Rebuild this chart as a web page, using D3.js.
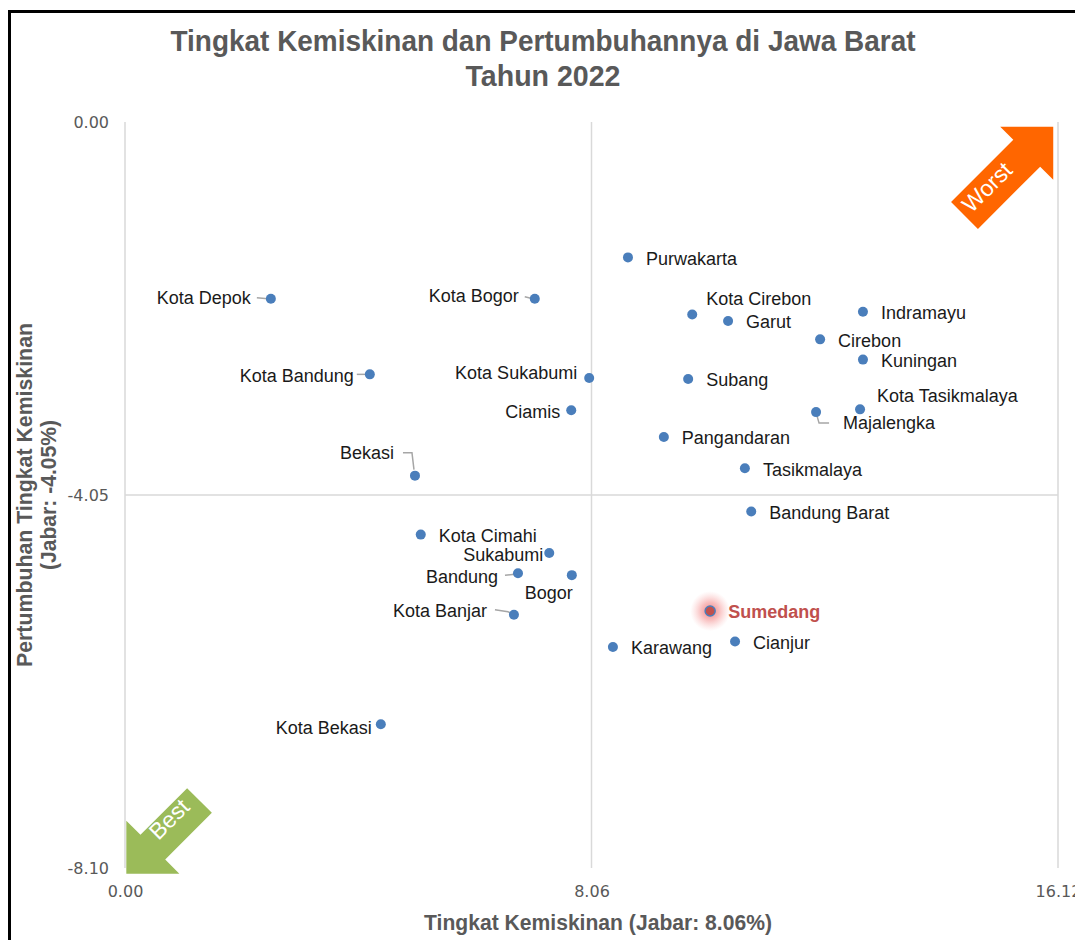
<!DOCTYPE html>
<html>
<head>
<meta charset="utf-8">
<script src="https://cdn.jsdelivr.net/npm/d3@7"></script>
<style>
  html, body { margin: 0; padding: 0; background: #fff; }
  svg { display: block; }
</style>
</head>
<body>
<svg id="chart" width="1075" height="940"></svg>
<script>
// ---------------- DATA ----------------
const regions = ["Purwakarta","Kota Depok","Kota Bogor","Kota Cirebon","Garut","Indramayu","Cirebon","Kuningan",
  "Kota Bandung","Kota Sukabumi","Subang","Ciamis","Majalengka","Kota Tasikmalaya","Pangandaran","Tasikmalaya",
  "Bekasi","Bandung Barat","Kota Cimahi","Sukabumi","Bandung","Bogor","Sumedang","Kota Banjar","Cianjur","Karawang","Kota Bekasi"];
const povertyRate = [8.69,2.52,7.08,9.80,10.42,12.75,12.01,12.75,
  4.23,8.02,9.73,7.71,11.94,12.70,9.31,10.71,
  5.01,10.82,5.11,7.33,6.79,7.72,10.11,6.72,10.54,8.43,4.42];
const povertyGrowth = [-1.47,-1.92,-1.92,-2.09,-2.16,-2.06,-2.36,-2.58,
  -2.74,-2.78,-2.79,-3.13,-3.15,-3.12,-3.42,-3.76,
  -3.84,-4.23,-4.48,-4.68,-4.90,-4.92,-5.31,-5.35,-5.64,-5.70,-6.54];
const highlight = "Sumedang";
const xTicks = [0, 8.06, 16.12];
const yTicks = [0, -4.05, -8.10];
const avgX = 8.06, avgY = -4.05;
const titleLines = ["Tingkat Kemiskinan dan Pertumbuhannya di Jawa Barat", "Tahun 2022"];
const xTitle = "Tingkat Kemiskinan (Jabar: 8.06%)";
const yTitleLines = ["Pertumbuhan Tingkat Kemiskinan", "(Jabar: -4.05%)"];

// ---------------- LABEL LAYOUT (positions only) ----------------
const labelLayout = {
  "Kota Depok":   {dx:-20, dy:-1, anchor:"end", leader:[[-14,-1],[-3,0]]},
  "Kota Bogor":   {dx:-16, dy:-3, anchor:"end", leader:[[-10,-2],[-2,0]]},
  "Kota Bandung": {dx:-16, dy:1, anchor:"end", leader:[[-13,0],[-3,0]]},
  "Bekasi":       {dx:-21, dy:-23, anchor:"end", leader:[[-12,-23],[-3,-23],[-1,-6]]},
  "Bandung":      {dx:-20, dy:3, anchor:"end", leader:[[-13,2],[-3,1]]},
  "Kota Banjar":  {dx:-27, dy:-4, anchor:"end", leader:[[-19,-5],[-6,-3],[-1,0]]},
  "Majalengka":   {dx:27, dy:11, anchor:"start", leader:[[1,4],[3,11],[13,11]]},
  "Kota Sukabumi":{dx:-12, dy:-5, anchor:"end"},
  "Ciamis":       {dx:-11, dy:1, anchor:"end"},
  "Sukabumi":     {dx:-6, dy:2, anchor:"end"},
  "Bogor":        {dx:1, dy:18, anchor:"end"},
  "Kota Bekasi":  {dx:-9, dy:3, anchor:"end"},
  "Kota Cirebon": {dx:14, dy:-16, anchor:"start"},
  "Kota Tasikmalaya": {dx:17, dy:-14, anchor:"start"}
};
const defaultLayout = {dx:18, dy:1, anchor:"start"};

// ---------------- CHART ----------------
const svg = d3.select("#chart");
const plot = {left:125, right:1058, top:122, bottom:868};
const x = d3.scaleLinear().domain([0, 16.12]).range([plot.left, plot.right]);
const y = d3.scaleLinear().domain([0, -8.10]).range([plot.top, plot.bottom]);

const grey = "#595959";
const gridCol = "#D9D9D9";
const condensed = "'Liberation Sans Narrow', 'Arial Narrow', 'Liberation Sans', sans-serif";
const fmt = d => d3.format(".2f")(d).replace("\u2212", "-");

// outer frame
svg.append("rect").attr("x", 9.5).attr("y", 11.5).attr("width", 1200).attr("height", 1200)
  .attr("fill", "none").attr("stroke", "#000").attr("stroke-width", 3);

// title
const titleLens = [745, 155];
svg.append("g").selectAll("text").data(titleLines).join("text")
  .attr("x", 543).attr("y", (d,i) => 51 + i*35)
  .attr("text-anchor", "middle")
  .attr("textLength", (d,i) => titleLens[i]).attr("lengthAdjust", "spacingAndGlyphs")
  .attr("font-family", condensed)
  .attr("font-weight", "bold").attr("font-size", 30).attr("fill", grey)
  .text(d => d);

// grid / axis lines
const gv = [0, avgX, 16.12];
svg.append("g").selectAll("line").data(gv).join("line")
  .attr("x1", d => x(d)).attr("x2", d => x(d))
  .attr("y1", plot.top).attr("y2", plot.bottom)
  .attr("stroke", gridCol).attr("stroke-width", 1.5);
svg.append("line")
  .attr("x1", plot.left).attr("x2", plot.right)
  .attr("y1", y(avgY)).attr("y2", y(avgY))
  .attr("stroke", gridCol).attr("stroke-width", 1.5);

// axes tick labels via d3 axes
const tickFont = "'DejaVu Sans', sans-serif";
const xAxis = d3.axisBottom(x).tickValues(xTicks).tickFormat(fmt).tickSize(0).tickPadding(0);
const gx = svg.append("g").attr("transform", `translate(0,${plot.bottom + 18})`).call(xAxis);
gx.select(".domain").remove();
gx.selectAll("text").attr("font-family", tickFont).attr("font-size", 16).attr("fill", grey).attr("dy", "0.71em");

const yAxis = d3.axisLeft(y).tickValues(yTicks).tickFormat(fmt).tickSize(0).tickPadding(0);
const gy = svg.append("g").attr("transform", `translate(${plot.left - 16},0)`).call(yAxis);
gy.select(".domain").remove();
gy.selectAll("text").attr("font-family", tickFont).attr("font-size", 16).attr("fill", grey);

// axis titles
svg.append("text").attr("x", 598).attr("y", 930).attr("text-anchor", "middle")
  .attr("textLength", 348).attr("lengthAdjust", "spacingAndGlyphs")
  .attr("font-family", condensed)
  .attr("font-weight", "bold").attr("font-size", 22).attr("fill", grey).text(xTitle);

const yLens = [344, 150];
svg.append("g").attr("transform", "translate(0,495) rotate(-90)")
  .selectAll("text").data(yTitleLines).join("text")
  .attr("x", 0).attr("y", (d,i) => 32 + i*24)
  .attr("text-anchor", "middle")
  .attr("textLength", (d,i) => yLens[i]).attr("lengthAdjust", "spacingAndGlyphs")
  .attr("font-family", condensed)
  .attr("font-weight", "bold").attr("font-size", 22).attr("fill", grey).text(d => d);

// arrows
function arrow(g, tail, angleDeg, shaftLen, shaftW, headLen, headW, color) {
  const L = shaftLen + headLen;
  const p = [[0,-shaftW/2],[shaftLen,-shaftW/2],[shaftLen,-headW/2],[L,0],[shaftLen,headW/2],[shaftLen,shaftW/2],[0,shaftW/2]];
  const a = g.append("g").attr("transform", `translate(${tail[0]},${tail[1]}) rotate(${angleDeg})`);
  a.append("path").attr("d", d3.line()(p) + "Z").attr("fill", color);
  return a;
}
const arrows = svg.append("g");
// Worst arrow (up-right)
arrow(arrows, [964.5, 215.5], -45, 88, 38, 37.5, 75, "#FF6600");
arrows.append("text").attr("transform", "translate(987,187) rotate(-45)")
  .attr("text-anchor", "middle").attr("dy", "0.35em")
  .attr("font-family", "'Liberation Sans', Arial, sans-serif").attr("font-size", 23)
  .attr("fill", "#fff").text("Worst");
// Best arrow (down-left)
arrow(arrows, [199.5, 800.5], 135, 66, 35, 37.5, 75, "#9BBB59");
arrows.append("text").attr("transform", "translate(169,819) rotate(-45)")
  .attr("text-anchor", "middle").attr("dy", "0.35em")
  .attr("font-family", "'Liberation Sans', Arial, sans-serif").attr("font-size", 23)
  .attr("fill", "#fff").text("Best");

// data
const data = regions.map((name, i) => ({name, px: povertyRate[i], py: povertyGrowth[i]}));

// glow for highlight
const defs = svg.append("defs");
const grad = defs.append("radialGradient").attr("id", "glow");
grad.append("stop").attr("offset", "0%").attr("stop-color", "#E8585A").attr("stop-opacity", 0.75);
grad.append("stop").attr("offset", "45%").attr("stop-color", "#F07070").attr("stop-opacity", 0.45);
grad.append("stop").attr("offset", "100%").attr("stop-color", "#F8A0A0").attr("stop-opacity", 0);
svg.append("g").selectAll("circle").data(data.filter(d => d.name === highlight)).join("circle")
  .attr("cx", d => x(d.px)).attr("cy", d => y(d.py)).attr("r", 20).attr("fill", "url(#glow)");

// leader lines
const lineGen = d3.line();
svg.append("g").selectAll("path").data(data.filter(d => labelLayout[d.name] && labelLayout[d.name].leader)).join("path")
  .attr("d", d => lineGen(labelLayout[d.name].leader.map(([a,b]) => [x(d.px)+a, y(d.py)+b])))
  .attr("fill", "none").attr("stroke", "#A6A6A6").attr("stroke-width", 1.5);

// points
svg.append("g").selectAll("circle").data(data).join("circle")
  .attr("cx", d => x(d.px)).attr("cy", d => y(d.py)).attr("r", 5)
  .attr("fill", d => d.name === highlight ? "#C0504D" : "#4A7EBB")
  .attr("stroke", d => d.name === highlight ? "#4A7EBB" : "none")
  .attr("stroke-width", 1.5);

// labels
svg.append("g").selectAll("text").data(data).join("text")
  .attr("x", d => x(d.px) + (labelLayout[d.name] || defaultLayout).dx)
  .attr("y", d => y(d.py) + (labelLayout[d.name] || defaultLayout).dy)
  .attr("dy", "0.35em")
  .attr("text-anchor", d => (labelLayout[d.name] || defaultLayout).anchor)
  .attr("font-family", "'Liberation Sans', Arial, sans-serif")
  .attr("font-size", 18)
  .attr("font-weight", d => d.name === highlight ? "bold" : "normal")
  .attr("fill", d => d.name === highlight ? "#C0504D" : "#1a1a1a")
  .text(d => d.name);
</script>
</body>
</html>
